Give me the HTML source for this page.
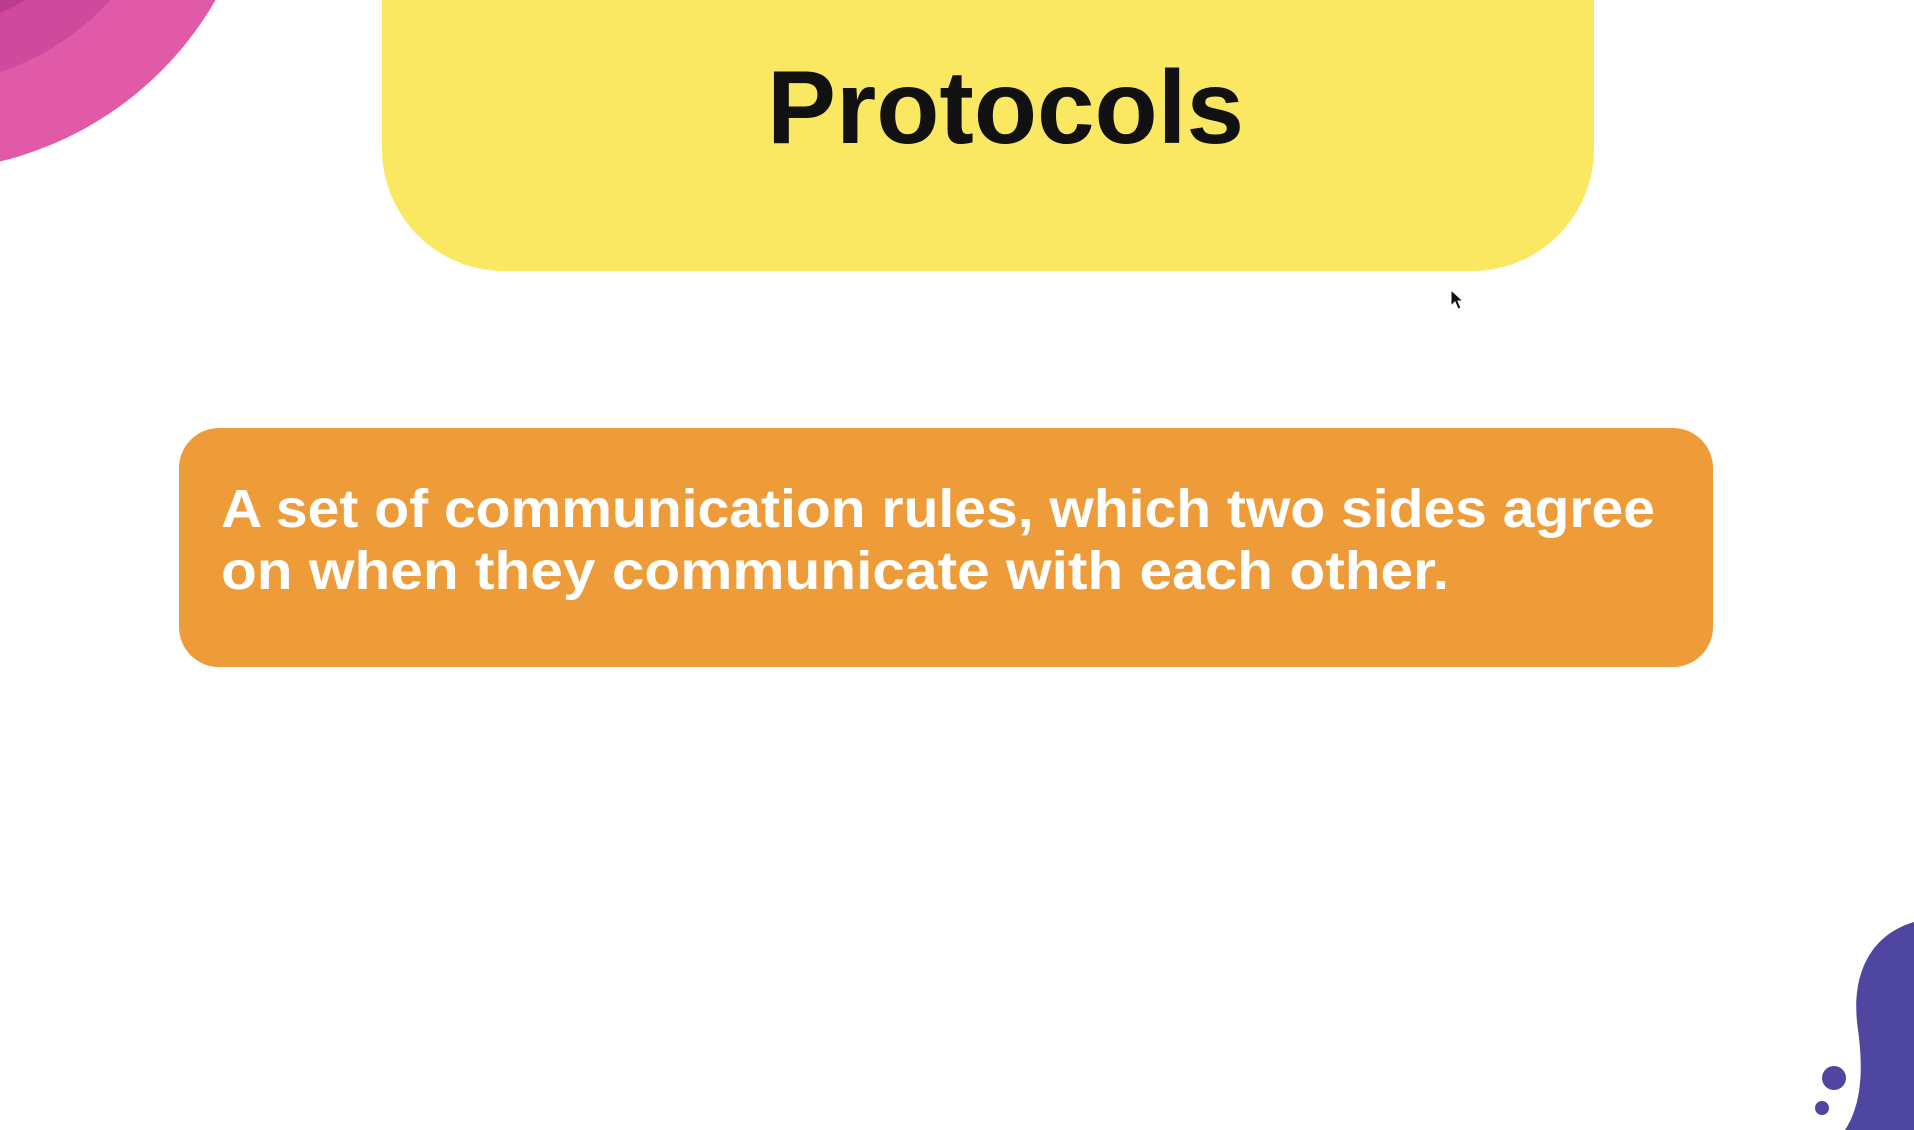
<!DOCTYPE html>
<html><head><meta charset="utf-8"><style>
html,body{margin:0;padding:0;background:#fff;width:1914px;height:1130px;overflow:hidden}
svg{display:block}
</style></head><body>
<svg width="1914" height="1130" viewBox="0 0 1914 1130">
  <g>
    <circle cx="-80" cy="-170" r="341" fill="#e05aa8"/>
    <circle cx="-80" cy="-170" r="255" fill="#cf4a9d"/>
    <circle cx="-80" cy="-170" r="200" fill="#bb3c8f"/>
  </g>
  <path d="M382 0 H1594 V149 A122 122 0 0 1 1472 271 H504 A122 122 0 0 1 382 149 Z" fill="#fbe862"/>
  <text x="767" y="143" textLength="477" lengthAdjust="spacingAndGlyphs" font-family="Liberation Sans, sans-serif" font-weight="bold" font-size="104" fill="#111">Protocols</text>
  <rect x="179" y="428" width="1534" height="239" rx="40" fill="#ee9b3a"/>
  <text x="221" y="527" textLength="1434" lengthAdjust="spacingAndGlyphs" font-family="Liberation Sans, sans-serif" font-weight="bold" font-size="54" fill="#fff">A set of communication rules, which two sides agree</text>
  <text x="221" y="589" textLength="1228" lengthAdjust="spacingAndGlyphs" font-family="Liberation Sans, sans-serif" font-weight="bold" font-size="54" fill="#fff">on when they communicate with each other.</text>
  <path d="M1451 290 L1451 306 L1455 302 L1458 309 L1461 308 L1458 301 L1463 301 Z" fill="#111" stroke="#fff" stroke-width="1"/>
  <g>
    <path d="M1914 922 C1870 935 1850 975 1858 1030 C1865 1080 1858 1110 1845 1130 L1914 1130 Z" fill="#4e46a0"/>
    <circle cx="1834" cy="1078" r="12" fill="#4e46a0"/>
    <circle cx="1822" cy="1108" r="7" fill="#4e46a0"/>
  </g>
</svg>
</body></html>
